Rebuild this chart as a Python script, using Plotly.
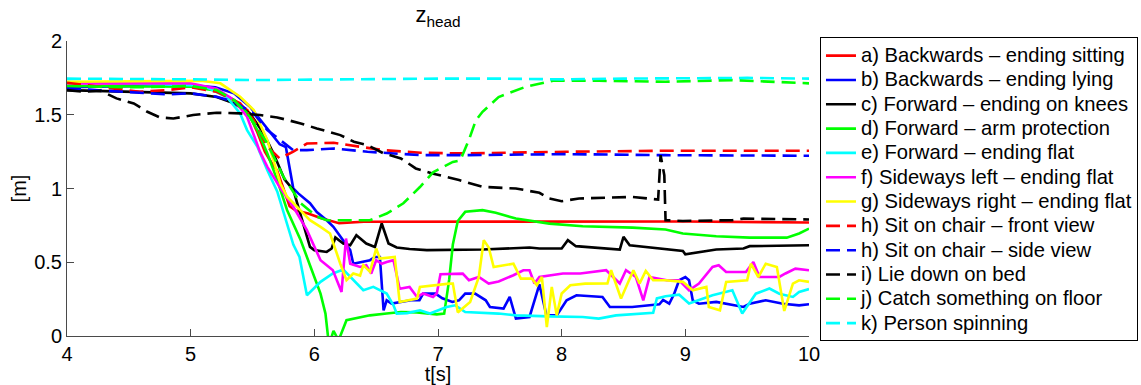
import plotly.graph_objects as go

# ---- data (t [s], z [m]) ----
a_pts = [(4.0,1.717),(4.5,1.713),(5.0,1.70),(5.2,1.67),(5.35,1.60),(5.46,1.53),(5.54,1.38),(5.6,1.25),
         (5.65,1.18),(5.7,1.12),(5.75,1.0),(5.8,0.88),(5.85,0.85),(5.95,0.83),(6.05,0.80),(6.15,0.775),
         (6.2,0.765),(6.4,0.775),(7.0,0.776),(8.0,0.778),(9.0,0.776),(10.0,0.77)]

b_pts = [(4.0,1.686),(4.5,1.695),(5.0,1.70),(5.2,1.686),(5.35,1.645),(5.48,1.554),(5.59,1.44),(5.67,1.35),
         (5.72,1.30),(5.77,1.28),(5.80,1.15),(5.83,1.0),(5.87,0.967),(5.965,0.90),(6.02,0.84),(6.10,0.785),
         (6.154,0.74),(6.22,0.661),(6.29,0.582),(6.315,0.49),(6.37,0.50),(6.45,0.514),(6.49,0.536),
         (6.53,0.536),(6.56,0.174),(6.585,0.242),(6.625,0.22),(6.69,0.231),(6.78,0.242),(6.85,0.242),
         (6.88,0.287),(6.98,0.287),(7.035,0.256),(7.116,0.231),(7.17,0.242),(7.22,0.287),(7.30,0.287),
         (7.386,0.242),(7.42,0.197),(7.53,0.186),(7.58,0.265),(7.63,0.118),(7.74,0.129),(7.82,0.35),
         (7.877,0.14),(7.96,0.14),(8.04,0.242),(8.12,0.276),(8.33,0.265),(8.39,0.197),(8.57,0.197),
         (8.71,0.208),(8.79,0.215),(8.82,0.245),(8.87,0.219),(8.91,0.287),(8.95,0.378),(9.0,0.40),
         (9.03,0.378),(9.06,0.242),(9.11,0.219),(9.25,0.231),(9.38,0.208),(9.47,0.197),(9.52,0.219),
         (9.65,0.242),(9.79,0.219),(9.92,0.208),(10.0,0.215)]

c_pts = [(4.0,1.667),(4.54,1.656),(5.0,1.645),(5.21,1.62),(5.35,1.577),(5.48,1.509),(5.59,1.373),
         (5.67,1.237),(5.76,1.06),(5.83,0.99),(5.91,0.763),(5.965,0.604),(6.0,0.582),(6.10,0.57),
         (6.14,0.593),(6.17,0.668),(6.234,0.627),(6.29,0.615),(6.34,0.683),(6.42,0.627),(6.49,0.604),
         (6.545,0.763),(6.60,0.627),(6.666,0.60),(6.77,0.59),(6.91,0.582),(7.36,0.586),(7.74,0.60),
         (7.82,0.593),(8.0,0.593),(8.05,0.65),(8.115,0.609),(8.47,0.586),(8.50,0.672),(8.55,0.615),
         (8.79,0.593),(8.98,0.577),(9.0,0.554),(9.25,0.586),(9.47,0.593),(9.52,0.609),(10.0,0.615)]

d_pts = [(4.0,1.695),(4.54,1.695),(5.0,1.69),(5.21,1.663),(5.35,1.60),(5.46,1.509),(5.54,1.396),
         (5.62,1.237),(5.70,1.057),(5.78,0.853),(5.89,0.649),(5.97,0.468),(6.05,0.287),(6.09,0.152),
         (6.11,0.0),(6.13,-0.03),(6.155,0.035),(6.19,-0.02),(6.21,0.0),(6.26,0.107),(6.32,0.118),
         (6.45,0.14),(6.585,0.152),(6.70,0.163),(6.83,0.16),(6.99,0.147),(7.05,0.152),(7.09,0.38),
         (7.12,0.62),(7.16,0.78),(7.22,0.842),(7.36,0.853),(7.467,0.835),(7.63,0.796),(7.90,0.762),
         (8.17,0.744),(8.574,0.735),(8.84,0.722),(8.98,0.695),(9.25,0.676),(9.52,0.667),(9.82,0.667),
         (9.92,0.695),(10.0,0.728)]

e_pts = [(4.0,1.724),(4.54,1.713),(5.0,1.70),(5.13,1.686),(5.29,1.622),(5.40,1.509),(5.456,1.396),
         (5.54,1.283),(5.62,1.124),(5.70,0.98),(5.78,0.75),(5.83,0.62),(5.88,0.536),(5.91,0.40),
         (5.94,0.276),(6.05,0.367),(6.15,0.424),(6.234,0.45),(6.34,0.356),(6.396,0.31),(6.477,0.333),
         (6.585,0.288),(6.64,0.208),(6.666,0.152),(6.75,0.155),(6.854,0.174),(6.935,0.152),(7.07,0.197),
         (7.14,0.208),(7.22,0.163),(7.49,0.152),(7.63,0.14),(7.90,0.133),(8.17,0.129),(8.30,0.118),
         (8.44,0.14),(8.74,0.158),(8.77,0.255),(8.84,0.27),(8.95,0.28),(9.03,0.22),(9.11,0.242),
         (9.22,0.276),(9.38,0.31),(9.46,0.152),(9.57,0.287),(9.68,0.322),(9.76,0.287),(9.87,0.265),
         (9.92,0.299),(10.0,0.318)]

f_pts = [(4.0,1.713),(5.0,1.713),(5.21,1.677),(5.35,1.60),(5.456,1.486),(5.56,1.25),(5.62,1.147),
         (5.72,1.01),(5.83,0.876),(5.94,0.718),(6.05,0.514),(6.15,0.446),(6.22,0.299),(6.256,0.661),
         (6.29,0.49),(6.37,0.468),(6.42,0.48),(6.46,0.424),(6.50,0.514),(6.545,0.49),(6.585,0.502),
         (6.64,0.514),(6.69,0.32),(6.77,0.333),(6.83,0.265),(6.88,0.288),(6.96,0.265),(6.99,0.288),
         (7.02,0.419),(7.20,0.423),(7.25,0.378),(7.33,0.40),(7.41,0.355),(7.49,0.37),(7.61,0.412),
         (7.69,0.446),(7.74,0.446),(7.78,0.356),(7.82,0.40),(8.01,0.424),(8.15,0.424),(8.36,0.446),
         (8.47,0.356),(8.52,0.446),(8.60,0.40),(8.66,0.242),(8.71,0.40),(8.85,0.378),(8.95,0.378),
         (9.03,0.31),(9.11,0.356),(9.22,0.468),(9.27,0.48),(9.33,0.434),(9.49,0.434),(9.55,0.502),
         (9.60,0.40),(9.76,0.40),(9.81,0.424),(9.89,0.457),(10.0,0.446)]

g_pts = [(4.0,1.724),(5.08,1.731),(5.24,1.713),(5.40,1.622),(5.51,1.532),(5.56,1.44),(5.62,1.328),
         (5.67,1.19),(5.725,1.034),(5.78,0.944),(5.86,0.876),(5.965,0.785),(6.05,0.74),(6.127,0.695),
         (6.21,0.49),(6.26,0.378),(6.315,0.424),(6.37,0.41),(6.396,0.48),(6.45,0.435),(6.50,0.593),
         (6.53,0.525),(6.65,0.536),(6.69,0.231),(6.83,0.254),(6.854,0.333),(7.09,0.355),(7.12,0.356),
         (7.16,0.16),(7.26,0.231),(7.33,0.40),(7.37,0.65),(7.41,0.60),(7.45,0.468),(7.61,0.49),
         (7.67,0.389),(7.76,0.389),(7.80,0.344),(7.84,0.40),(7.88,0.061),(7.92,0.333),(7.96,0.14),
         (8.0,0.288),(8.07,0.344),(8.19,0.355),(8.37,0.356),(8.40,0.446),(8.48,0.254),(8.58,0.446),
         (8.63,0.356),(8.68,0.441),(8.74,0.378),(8.84,0.378),(8.98,0.367),(9.06,0.31),(9.17,0.333),
         (9.19,0.197),(9.28,0.174),(9.33,0.367),(9.50,0.378),(9.53,0.49),(9.59,0.40),(9.65,0.49),
         (9.74,0.468),(9.80,0.17),(9.87,0.355),(9.92,0.378),(10.0,0.367)]

h1_pts = [(4.0,1.717),(4.27,1.69),(4.59,1.656),(4.81,1.667),(5.0,1.686),(5.21,1.656),(5.40,1.577),
          (5.51,1.464),(5.62,1.283),(5.72,1.204),(5.83,1.25),(5.94,1.305),(6.156,1.31),(6.37,1.283),
          (6.56,1.26),(6.86,1.242),(7.22,1.238),(8.03,1.249),(8.84,1.256),(10.0,1.256)]

h2_pts = [(4.0,1.679),(4.27,1.667),(4.81,1.638),(5.0,1.645),(5.21,1.622),(5.35,1.588),(5.51,1.509),
          (5.62,1.396),(5.725,1.328),(5.83,1.26),(5.94,1.26),(6.156,1.271),(6.43,1.249),(6.86,1.226),
          (7.22,1.226),(8.03,1.233),(8.84,1.226),(10.0,1.222)]

i_pts = [(4.0,1.667),(4.13,1.656),(4.27,1.663),(4.40,1.611),(4.54,1.577),(4.65,1.52),(4.75,1.482),
         (4.86,1.475),(5.02,1.498),(5.21,1.514),(5.40,1.509),(5.56,1.498),(5.70,1.482),(5.89,1.441),
         (6.02,1.407),(6.21,1.362),(6.32,1.317),(6.43,1.294),(6.56,1.238),(6.70,1.204),(6.82,1.136),
         (6.954,1.102),(7.17,1.057),(7.36,1.011),(7.63,1.0),(7.82,0.971),(7.90,0.932),(8.0,0.914),
         (8.14,0.932),(8.30,0.937),(8.57,0.943),(8.78,0.925),(8.80,1.226),(8.83,1.09),(8.84,0.785),
         (8.98,0.78),(9.38,0.785),(9.47,0.796),(10.0,0.79)]

j_pts = [(4.0,1.695),(4.54,1.686),(5.0,1.695),(5.21,1.667),(5.35,1.60),(5.48,1.486),(5.62,1.305),
         (5.75,1.08),(5.89,0.90),(6.02,0.81),(6.10,0.785),(6.45,0.785),(6.585,0.83),(6.72,0.90),
         (6.854,1.01),(6.96,1.11),(7.12,1.18),(7.18,1.19),(7.25,1.33),(7.305,1.46),(7.36,1.52),
         (7.49,1.62),(7.71,1.69),(7.93,1.73),(8.30,1.73),(8.84,1.724),(9.38,1.735),(9.65,1.724),
         (10.0,1.713)]

k_pts = [(4.0,1.745),(4.5,1.745),(5.0,1.74),(5.5,1.735),(6.0,1.74),(6.5,1.74),(7.0,1.745),
         (7.5,1.745),(8.0,1.74),(8.5,1.745),(9.0,1.75),(9.5,1.75),(10.0,1.745)]

series_names = [
    "a) Backwards \u2013 ending sitting",
    "b) Backwards \u2013 ending lying",
    "c) Forward \u2013 ending on knees",
    "d) Forward \u2013 arm protection",
    "e) Forward \u2013 ending flat",
    "f) Sideways left \u2013 ending flat",
    "g) Sideways right \u2013 ending flat",
    "h) Sit on chair \u2013 front view",
    "h) Sit on chair \u2013 side view",
    "i) Lie down on bed",
    "j) Catch something on floor",
    "k) Person spinning",
]
series_data = [a_pts, b_pts, c_pts, d_pts, e_pts, f_pts, g_pts, h1_pts, h2_pts, i_pts, j_pts, k_pts]
series_colors = ["#FF0000", "#0000FF", "#000000", "#00FF00", "#00FFFF", "#FF00FF", "#FFFF00",
                 "#FF0000", "#0000FF", "#000000", "#00FF00", "#00FFFF"]
series_dash = ["solid"] * 7 + ["14px,7px"] * 5

x_ticks = [4, 5, 6, 7, 8, 9, 10]
y_ticks = [0, 0.5, 1, 1.5, 2]
y_tick_text = ["0", "0.5", "1", "1.5", "2"]

FONT = "Liberation Sans, Arial, Helvetica, sans-serif"
AX = "#4a4a4a"

fig = go.Figure()
for name, pts, col, dash in zip(series_names, series_data, series_colors, series_dash):
    fig.add_trace(go.Scatter(
        x=[p[0] for p in pts], y=[p[1] for p in pts], mode="lines",
        name='<span style="font-size:20.2px">' + name + '</span>',
        line=dict(color=col, width=2.6, dash=dash),
    ))

fig.update_layout(
    width=1141, height=385,
    margin=dict(l=67, r=332, t=41, b=49, autoexpand=False),
    paper_bgcolor="white", plot_bgcolor="white",
    font=dict(family=FONT, size=20, color="black"),
    title=dict(text="z<sub>head</sub>", x=0.5, xref="paper", xanchor="center",
               y=0.982, yref="container", yanchor="top", font=dict(size=22, family=FONT)),
    xaxis=dict(range=[4, 10], tickvals=x_ticks, ticks="inside", ticklen=7, tickcolor=AX,
               showline=True, linecolor=AX, linewidth=1, showgrid=False, zeroline=False,
               title=dict(text="t[s]", standoff=0, font=dict(size=20))),
    yaxis=dict(range=[0, 2], tickvals=y_ticks, ticktext=y_tick_text, ticks="inside", ticklen=7,
               tickcolor=AX, showline=True, linecolor=AX, linewidth=1, showgrid=False,
               zeroline=False, title=dict(text="[m]", standoff=2, font=dict(size=20))),
    legend=dict(x=1.0148, xanchor="left", y=1.012, yanchor="top", bordercolor="black",
                borderwidth=1, bgcolor="white", font=dict(size=16.4, family=FONT),
                tracegroupgap=0, maxheight=360),
    showlegend=True,
)

fig.write_html("out.html")
